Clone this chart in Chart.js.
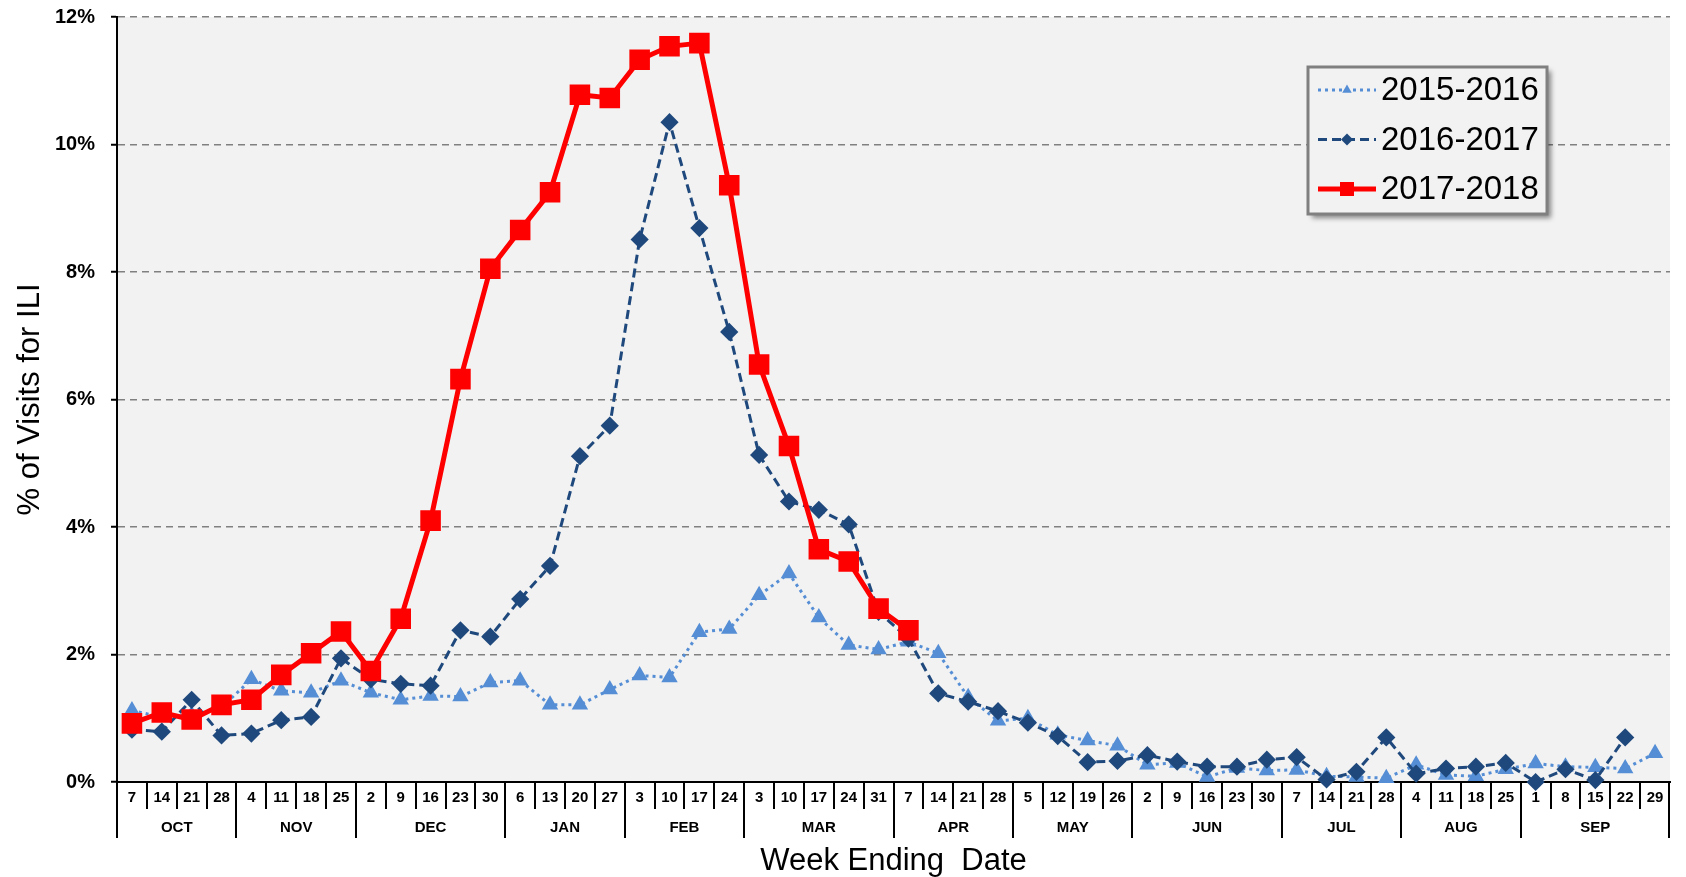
<!DOCTYPE html>
<html>
<head>
<meta charset="utf-8">
<title>ILI visits by week</title>
<script src="https://cdn.jsdelivr.net/npm/chart.js@4.4.1/dist/chart.umd.min.js"></script>
<style>
  html, body { margin: 0; padding: 0; background: #fff; }
  #wrap { width: 1686px; height: 877px; position: relative; }
</style>
</head>
<body>
<div id="wrap"><canvas id="iliChart"></canvas></div>
<script>
// week ending day numbers, Oct -> Sep
const weekDays = [7, 14, 21, 28, 4, 11, 18, 25, 2, 9, 16, 23, 30, 6, 13, 20, 27,
  3, 10, 17, 24, 3, 10, 17, 24, 31, 7, 14, 21, 28, 5, 12, 19, 26,
  2, 9, 16, 23, 30, 7, 14, 21, 28, 4, 11, 18, 25, 1, 8, 15, 22, 29];
const monthNames = ["OCT", "NOV", "DEC", "JAN", "FEB", "MAR", "APR", "MAY", "JUN", "JUL", "AUG", "SEP"];
const monthWeeks = [4, 4, 5, 4, 4, 5, 4, 4, 5, 4, 4, 5];

const seasonLabels = ["2015-2016", "2016-2017", "2017-2018"];

// % of visits for ILI
const season1516 = [1.12, 1.02, 1.05, 1.17, 1.61, 1.43, 1.40, 1.59, 1.40, 1.29, 1.35, 1.34, 1.56,
  1.59, 1.21, 1.21, 1.45, 1.67, 1.64, 2.35, 2.40, 2.93, 3.27, 2.58, 2.15, 2.08, 2.20,
  2.02, 1.33, 0.96, 1.00, 0.74, 0.65, 0.57, 0.27, 0.30, 0.08, 0.22, 0.18, 0.19,
  0.09, 0.08, 0.06, 0.27, 0.11, 0.09, 0.20, 0.29, 0.24, 0.23, 0.21, 0.45];
const season1617 = [0.82, 0.79, 1.29, 0.73, 0.76, 0.97, 1.02, 1.94, 1.61, 1.54, 1.51, 2.38, 2.28,
  2.87, 3.39, 5.11, 5.59, 8.51, 10.35, 8.69, 7.06, 5.13, 4.40, 4.27, 4.04, 2.67, 2.25,
  1.39, 1.26, 1.11, 0.93, 0.72, 0.31, 0.33, 0.42, 0.32, 0.24, 0.24, 0.35, 0.39,
  0.04, 0.16, 0.70, 0.13, 0.21, 0.24, 0.30, 0.00, 0.20, 0.03, 0.70, null];
const season1718 = [0.92, 1.09, 0.98, 1.21, 1.29, 1.68, 2.02, 2.36, 1.74, 2.56, 4.10, 6.32, 8.05,
  8.66, 9.25, 10.78, 10.73, 11.33, 11.54, 11.59, 9.36, 6.55, 5.27, 3.65, 3.46, 2.72, 2.38];

const FONT = "'Liberation Sans', Arial, sans-serif";
Chart.defaults.font.family = FONT;
Chart.defaults.color = '#000';

function drawMarker(ctx, style, x, y, r, color) {
	ctx.fillStyle = color;
	ctx.beginPath();
	if (style === 'triangle') {
		ctx.moveTo(x, y - r);
		ctx.lineTo(x + r * 0.866, y + r * 0.5);
		ctx.lineTo(x - r * 0.866, y + r * 0.5);
	} else if (style === 'rectRot') {
		ctx.moveTo(x, y - r);
		ctx.lineTo(x + r, y);
		ctx.lineTo(x, y + r);
		ctx.lineTo(x - r, y);
	} else {
		ctx.rect(x - r, y - r, 2 * r, 2 * r);
	}
	ctx.closePath();
	ctx.fill();
}

// grey plot area
const plotBg = {
	id: 'plotBg',
	beforeDraw(chart) {
		const {ctx, chartArea} = chart;
		ctx.save();
		ctx.fillStyle = '#f2f2f2';
		ctx.fillRect(chartArea.left, chartArea.top, chartArea.right - chartArea.left, chartArea.bottom - chartArea.top);
		ctx.restore();
	}
};

// two-row axis: day numbers then month names
const weekAxis = {
	id: 'weekAxis',
	afterDraw(chart) {
		const {ctx, scales: {x}} = chart;
		const base = chart.chartArea.bottom;
		const half = (x.getPixelForValue(1) - x.getPixelForValue(0)) / 2;
		ctx.save();
		ctx.strokeStyle = '#000';
		ctx.lineWidth = 2;
		ctx.fillStyle = '#000';
		ctx.textAlign = 'center';
		ctx.textBaseline = 'middle';
		ctx.font = 'bold 15px ' + FONT;
		weekDays.forEach((d, i) => {
			const cx = x.getPixelForValue(i);
			ctx.fillText(String(d), cx, base + 16);
			if (i > 0) {
				ctx.beginPath();
				ctx.moveTo(Math.round(cx - half), base);
				ctx.lineTo(Math.round(cx - half), base + 27);
				ctx.stroke();
			}
		});
		let start = 0;
		monthNames.forEach((m, k) => {
			const n = monthWeeks[k];
			const x0 = x.getPixelForValue(start) - half;
			const x1 = x.getPixelForValue(start + n - 1) + half;
			ctx.beginPath();
			ctx.moveTo(Math.round(x0), base);
			ctx.lineTo(Math.round(x0), base + 56);
			ctx.stroke();
			ctx.fillText(m, (x0 + x1) / 2, base + 46);
			start += n;
		});
		ctx.beginPath();
		ctx.moveTo(x.right - 1, base);
		ctx.lineTo(x.right - 1, base + 56);
		ctx.stroke();
		ctx.restore();
	}
};

const legendMarker = [5.5, 6, 7];

const seasonLegend = {
	id: 'seasonLegend',
	afterDraw(chart) {
		const {ctx, chartArea} = chart;
		const bx = chartArea.right - 362, by = chartArea.top + 50, bw = 239, bh = 147;
		ctx.save();
		ctx.shadowColor = 'rgba(0,0,0,0.45)';
		ctx.shadowBlur = 5;
		ctx.shadowOffsetX = 4;
		ctx.shadowOffsetY = 4;
		ctx.fillStyle = '#f2f2f2';
		ctx.fillRect(bx, by, bw, bh);
		ctx.restore();

		ctx.save();
		ctx.strokeStyle = '#808080';
		ctx.lineWidth = 3;
		ctx.strokeRect(bx, by, bw, bh);
		chart.data.datasets.forEach((ds, k) => {
			const y = by + 23 + k * 49.5;
			ctx.setLineDash(ds.borderDash || []);
			ctx.strokeStyle = ds.borderColor;
			ctx.lineWidth = ds.borderWidth;
			ctx.beginPath();
			ctx.moveTo(bx + 10, y);
			ctx.lineTo(bx + 68, y);
			ctx.stroke();
			ctx.setLineDash([]);
			drawMarker(ctx, ds.pointStyle, bx + 39, y, legendMarker[k], ds.backgroundColor);
			ctx.fillStyle = '#000';
			ctx.font = '33px ' + FONT;
			ctx.textAlign = 'left';
			ctx.textBaseline = 'middle';
			ctx.fillText(ds.label, bx + 73, y + 1);
		});
		ctx.restore();
	}
};

const ctxIli = document.getElementById('iliChart').getContext('2d');

new Chart(ctxIli, {
	type: 'line',
	data: {
		labels: weekDays.map(String),
		datasets: [{
			label: seasonLabels[0],
			data: season1516,
			borderColor: '#558ed5',
			backgroundColor: '#558ed5',
			borderWidth: 3,
			borderDash: [3, 4],
			pointStyle: 'triangle',
			pointRadius: 6.5,
			order: 3
		}, {
			label: seasonLabels[1],
			data: season1617,
			borderColor: '#1f497d',
			backgroundColor: '#1f497d',
			borderWidth: 3,
			borderDash: [9, 5],
			pointStyle: 'rectRot',
			pointRadius: 7,
			order: 2
		}, {
			label: seasonLabels[2],
			data: season1718,
			borderColor: '#ff0000',
			backgroundColor: '#ff0000',
			borderWidth: 5,
			pointStyle: 'rect',
			pointRadius: 11,
			order: 1
		}]
	},
	options: {
		responsive: true,
		maintainAspectRatio: false,
		animation: false,
		layout: { padding: { top: 17, right: 6, left: 0, bottom: 0 } },
		elements: {
			line: { tension: 0, fill: false },
			point: { borderWidth: 1, hoverRadius: 7 }
		},
		datasets: { line: { clip: false, spanGaps: false } },
		plugins: {
			legend: { display: false },
			tooltip: { enabled: false }
		},
		scales: {
			x: {
				type: 'category',
				offset: true,
				afterFit(scale) {
					scale.height = 95;
					scale.paddingLeft = 0;
					scale.paddingRight = 0;
				},
				grid: { display: true, drawOnChartArea: false, drawTicks: false },
				border: { display: true, color: '#000', width: 2 },
				ticks: { display: false },
				title: {
					display: true,
					text: 'Week Ending  Date',
					font: { size: 31 },
					color: '#000',
					padding: { top: 0, bottom: -3 }
				}
			},
			y: {
				min: 0,
				max: 12,
				afterFit(scale) {
					scale.width = 117;
					scale.paddingTop = 0;
					scale.paddingBottom = 0;
				},
				ticks: {
					stepSize: 2,
					padding: 16,
					color: '#000',
					font: { size: 20, weight: 'bold' },
					callback: (v) => v + '%'
				},
				grid: {
					color: (c) => c.tick && c.tick.value === 0 ? 'rgba(0,0,0,0)' : '#808080',
					lineWidth: 1.5,
					tickLength: 6,
					tickColor: '#000',
					tickWidth: 2
				},
				border: { display: true, color: '#000', width: 2, dash: [7, 5] },
				title: {
					display: true,
					text: '% of Visits for ILI',
					font: { size: 31 },
					color: '#000',
					padding: { top: 12, bottom: 0 }
				}
			}
		}
	},
	plugins: [plotBg, weekAxis, seasonLegend]
});
</script>
</body>
</html>
